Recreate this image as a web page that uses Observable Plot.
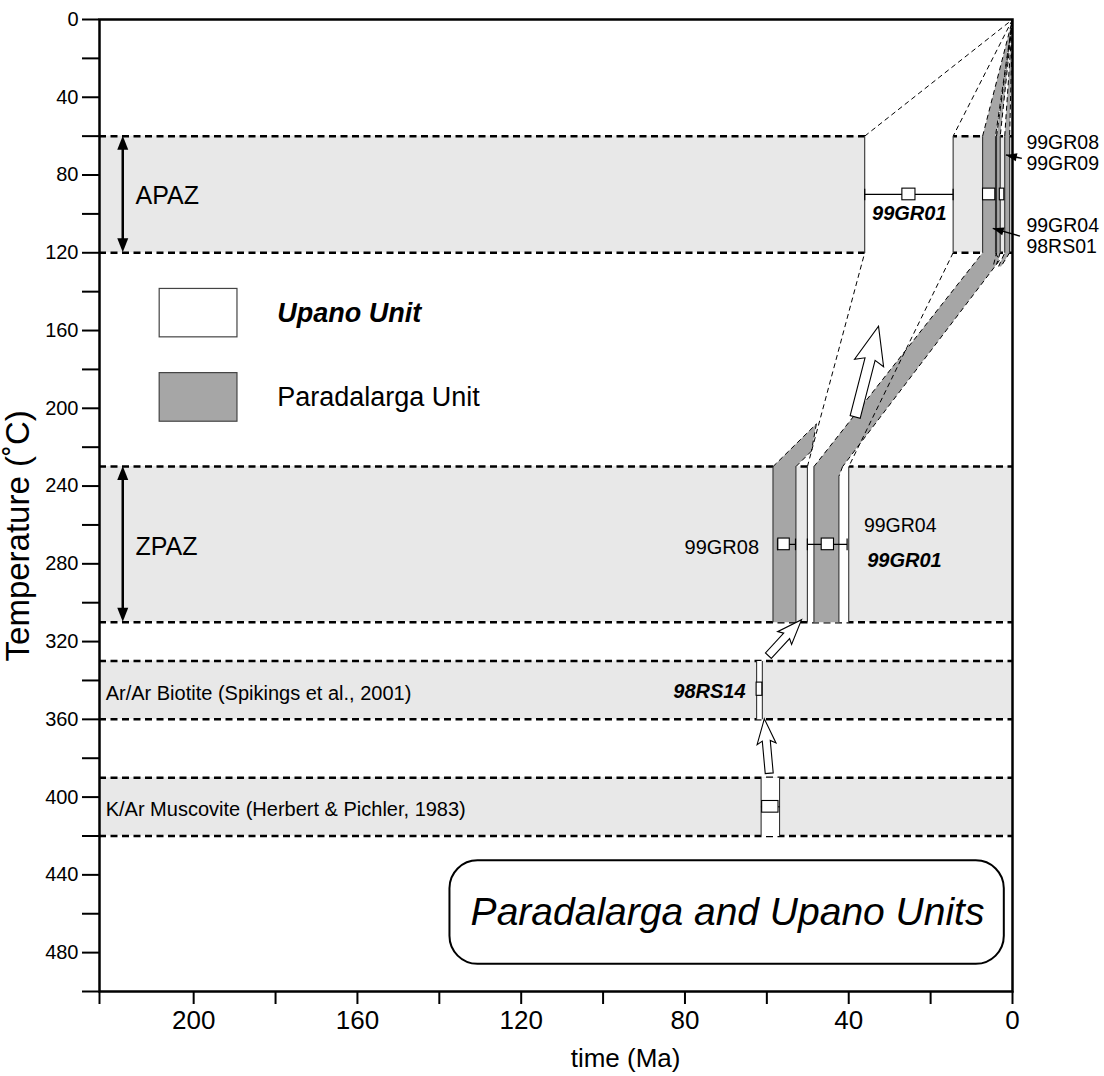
<!DOCTYPE html>
<html><head><meta charset="utf-8">
<script src="https://cdn.jsdelivr.net/npm/d3@7"></script>
<script src="https://cdn.jsdelivr.net/npm/@observablehq/plot@0.6"></script>
<style>
body{margin:0;background:#fff;}
svg{font-family:"Liberation Sans",Arial,sans-serif;}
</style>
</head><body><div id="chart"></div>
<script>
// ---------- DATA (time in Ma, temperature in °C) ----------
const xTicks = [223, 200, 180, 160, 140, 120, 100, 80, 60, 40, 20, 0];
const xLabelled = [200, 160, 120, 80, 40, 0];
const yTicks = d3.range(0, 501, 20);
const yLabelled = d3.range(0, 481, 40);

// closure-temperature bands
const bandLabels = ["APAZ", "ZPAZ", "Ar/Ar Biotite (Spikings et al., 2001)", "K/Ar Muscovite (Herbert & Pichler, 1983)"];
const bandTop = [60, 230, 330, 390];
const bandBottom = [120, 310, 360, 420];

// Upano Unit (white) t–T paths
const upano99GR01 = [[50.1,310],[50.1,230],[36.1,120],[36.1,60],[0,0],[14.5,60],[14.5,120],[40.0,230],[40.0,310]];
const upano98RS14 = [[62.5,330],[62.5,360],[61.1,360],[61.1,330]];
const upanoKAr    = [[61.4,390],[61.4,420],[56.9,420],[56.9,390]];

// Paradalarga Unit (grey) t–T paths
const para99GR08  = [[58.5,310],[58.5,230],[47.9,208],[49.1,222],[52.9,230],[52.9,310]];
const para99GR04  = [[48.5,310],[48.5,230],[7.3,120],[7.3,60],[0,0],[4.15,60],[4.15,120],[3.2,124],[41.5,230],[42.4,235],[42.4,310]];
const para99GR08a = [[4.6,126],[3.9,120],[3.9,60],[0,0],[3.0,60],[3.0,120],[3.9,126]];
const para99GR09a = [[3.4,127],[1.9,120],[1.9,60],[0,0],[0.7,60],[0.7,120],[2.8,127]];

// fission-track ages: error bars (age range) and central age
const barAgeMin = [14.5, 53.0, 40.4];
const barAgeMax = [36.1, 57.4, 50.1];
const barTemp   = [90, 270, 270];
const boxAge  = [25.3, 55.8, 45.1, 61.8, 5.7, 2.55, 59.15];
const boxTemp = [90, 270, 270, 344.5, 90, 90, 405];

// sample labels
const upanoLabelText = ["99GR01", "99GR01", "98RS14"];
const upanoLabelAge  = [34.3, 35.5, 65.2];
const upanoLabelTemp = [100, 278.4, 345.7];
const paraLabelText = ["99GR08", "99GR04", "99GR08", "99GR09", "99GR04", "98RS01"];
const paraLabelAge  = [61.9, 36.3, -3.4, -3.4, -3.4, -3.4];
const paraLabelTemp = [271.6, 260.4, 63.5, 74.3, 106.2, 116.8];

// arrows
const hollowTail = [[59.3,388],[59.5,327.5],[38.3,204.7]];
const hollowTip  = [[60.5,360],[51.4,309],[32.6,158]];
const pointerTail = [[-2.4,71.7],[-1.95,111.7]];
const pointerTip  = [[1.5,69.9],[4.7,107.7]];
const rangeArrowAge = 217.2;

// legend + title
const legendLabels = ["Upano Unit", "Paradalarga Unit"];
const titleText = "Paradalarga and Upano Units";

// ---------- STYLE ----------
const GREY = "#a6a6a6", BAND = "#e8e8e8";
const boxHalfW = [1.6, 1.4, 1.5, 0.7, 1.5, 0.55, 2.0];
const boxHalfH = [3, 3, 3, 3.4, 3, 3, 3];

// ---------- build tables ----------
const bands = bandLabels.map((name, i) => ({name, top: bandTop[i], bottom: bandBottom[i]}));
const bandEdges = bands.flatMap(b => [b.top, b.bottom]);
const upanoPaths = [upano99GR01, upano98RS14, upanoKAr];
const paraPaths = [para99GR08, para99GR04, para99GR08a, para99GR09a];
const toPts = (paths) => paths.flatMap((p, k) => p.map(([t, T]) => ({t, T, k})));
function edges(paths) {
  const out = [];
  for (const p of paths) for (let i = 0; i < p.length - 1; i++) {
    const [a, b] = [p[i], p[i + 1]];
    if (a[1] === b[1]) continue;
    out.push({t1: a[0], T1: a[1], t2: b[0], T2: b[1], vertical: a[0] === b[0]});
  }
  return out;
}
const allEdges = edges([...upanoPaths, ...paraPaths]);
const bars = barAgeMin.map((a, i) => ({a, b: barAgeMax[i], T: barTemp[i]}));
const caps = bars.flatMap(d => [{t: d.a, T: d.T}, {t: d.b, T: d.T}]);
const boxes = boxAge.map((t, i) => ({t, T: boxTemp[i], hw: boxHalfW[i], hh: boxHalfH[i]}));
const upanoLabels = upanoLabelText.map((s, i) => ({s, t: upanoLabelAge[i], T: upanoLabelTemp[i]}));
const paraLabels = paraLabelText.map((s, i) => ({s, t: paraLabelAge[i], T: paraLabelTemp[i]}));
const endAnchored = (d) => d.t > 50;

function arrowLayer(index, scales) {
  const {x, y} = scales;
  const g = d3.create("svg:g");
  const spec = [{w: 4, W: 9.5, L: 22, k: 3}, {w: 4, W: 9.5, L: 22, k: 3}, {w: 5.2, W: 15, L: 34, k: 4}];
  hollowTail.forEach((tl, i) => {
    const P0 = [x(tl[0]), y(tl[1])], P1 = [x(hollowTip[i][0]), y(hollowTip[i][1])];
    const dx = P1[0] - P0[0], dy = P1[1] - P0[1], len = Math.hypot(dx, dy);
    const u = [dx / len, dy / len], n = [-u[1], u[0]];
    const {w, W, L, k} = spec[i];
    const B = [P1[0] - u[0] * L, P1[1] - u[1] * L];
    const pt = (base, nn, uu) => [base[0] + n[0] * nn + u[0] * uu, base[1] + n[1] * nn + u[1] * uu];
    const poly = [pt(P0, w, 0), pt(B, w, 0), pt(B, W, -k), P1, pt(B, -W, -k), pt(B, -w, 0), pt(P0, -w, 0)];
    g.append("path").attr("d", "M" + poly.map(p => p.join(",")).join("L") + "Z")
      .attr("fill", "white").attr("stroke", "black").attr("stroke-width", 1.1);
  });
  const head = (tip, from, W, L) => {
    const dx = tip[0] - from[0], dy = tip[1] - from[1], len = Math.hypot(dx, dy);
    const u = [dx / len, dy / len], n = [-u[1], u[0]];
    const B = [tip[0] - u[0] * L, tip[1] - u[1] * L];
    g.append("path").attr("d", `M${tip}L${B[0] + n[0] * W},${B[1] + n[1] * W}L${B[0] - n[0] * W},${B[1] - n[1] * W}Z`).attr("fill", "black");
  };
  pointerTail.forEach((tl, i) => {
    const P0 = [x(tl[0]), y(tl[1])], P1 = [x(pointerTip[i][0]), y(pointerTip[i][1])];
    g.append("line").attr("x1", P0[0]).attr("y1", P0[1]).attr("x2", P1[0]).attr("y2", P1[1]).attr("stroke", "black").attr("stroke-width", 1.5);
    head(P1, P0, 4, 11);
  });
  [0, 1].forEach(i => {
    const xx = x(rangeArrowAge), a = y(bandTop[i]), b = y(bandBottom[i]);
    g.append("line").attr("x1", xx).attr("x2", xx).attr("y1", a + 8).attr("y2", b - 8).attr("stroke", "black").attr("stroke-width", 2.5);
    head([xx, a], [xx, b], 5.5, 14);
    head([xx, b], [xx, a], 5.5, 14);
  });
  return g.node();
}

const chart = Plot.plot({
  width: 1104, height: 1076,
  marginLeft: 99, marginRight: 92, marginTop: 19, marginBottom: 85,
  x: {domain: [223, 0]},
  y: {domain: [0, 500], reverse: true},
  style: {fontFamily: "'Liberation Sans', Arial, sans-serif", background: "white"},
  marks: [
    Plot.rectY(bands, {x1: 223, x2: 0, y1: "top", y2: "bottom", fill: BAND}),
    Plot.ruleY(bandEdges, {stroke: "black", strokeWidth: 2.5, strokeDasharray: "7,4.5"}),
    // fills
    Plot.line(toPts(upanoPaths), {x: "t", y: "T", z: "k", fill: "white", stroke: "none", curve: "linear-closed"}),
    Plot.line(toPts(paraPaths), {x: "t", y: "T", z: "k", fill: GREY, stroke: "none", curve: "linear-closed"}),
    // outlines
    Plot.link(allEdges.filter(d => !d.vertical), {x1: "t1", y1: "T1", x2: "t2", y2: "T2", stroke: "black", strokeWidth: 1, strokeDasharray: "5,3.5"}),
    Plot.link(allEdges.filter(d => d.vertical), {x1: "t1", y1: "T1", x2: "t2", y2: "T2", stroke: "#333", strokeWidth: 1.1}),
    // error bars
    Plot.link(bars, {x1: "a", x2: "b", y1: "T", y2: "T", stroke: "black", strokeWidth: 1.2}),
    Plot.link(caps, {x1: "t", x2: "t", y1: d => d.T - 3, y2: d => d.T + 3, stroke: "black", strokeWidth: 1.2}),
    Plot.link(boxes.slice(6), {x1: d => d.t - d.hw - 0.3, x2: d => d.t + d.hw + 0.3, y1: "T", y2: "T", stroke: "black", strokeWidth: 1}),
    Plot.rect(boxes, {x1: d => d.t - d.hw, x2: d => d.t + d.hw, y1: d => d.T - d.hh, y2: d => d.T + d.hh, fill: "white", stroke: "black", strokeWidth: 1.1}),
    // legend
    Plot.rect([0, 1], {x1: 208.3, x2: 189.3, y1: i => [138.6, 181.9][i], y2: i => [163.5, 206.9][i], fill: i => ["white", GREY][i], stroke: "#444", strokeWidth: 1.2}),
    Plot.text([0], {x: 179.6, y: 151.2, text: () => legendLabels[0], textAnchor: "start", fontSize: 27, fontWeight: "bold", fontStyle: "italic", fill: "black"}),
    Plot.text([1], {x: 179.6, y: 194.4, text: () => legendLabels[1], textAnchor: "start", fontSize: 27, fill: "black"}),
    // band labels
    Plot.text(bands.slice(0, 2), {x: 214.2, y: d => d.name === "APAZ" ? 90.6 : 271.4, text: "name", textAnchor: "start", fontSize: 25, fill: "black"}),
    Plot.text(bands.slice(2), {x: 221.5, y: d => (d.top + d.bottom) / 2 + 1.5, text: "name", textAnchor: "start", fontSize: 20, fill: "black"}),
    // sample labels
    Plot.text(paraLabels.filter(d => !endAnchored(d)), {x: "t", y: "T", text: "s", textAnchor: "start", fontSize: 19.5, fill: "black"}),
    Plot.text(paraLabels.filter(endAnchored), {x: "t", y: "T", text: "s", textAnchor: "end", fontSize: 20, fill: "black"}),
    Plot.text(upanoLabels.filter(d => !endAnchored(d)), {x: "t", y: "T", text: "s", textAnchor: "start", fontSize: 20, fontWeight: "bold", fontStyle: "italic", fill: "black"}),
    Plot.text(upanoLabels.filter(endAnchored), {x: "t", y: "T", text: "s", textAnchor: "end", fontSize: 20, fontWeight: "bold", fontStyle: "italic", fill: "black"}),
    // arrows
    arrowLayer,
    // title box
    Plot.rect([0], {x1: 137.4, x2: 2, y1: 432.8, y2: 486, rx: 28, fill: "white", stroke: "black", strokeWidth: 2}),
    Plot.text([titleText], {x: 69.6, y: 459.5, text: d => d, fontSize: 39, fontStyle: "italic", fill: "black"}),
    // axes
    Plot.frame({stroke: "black", strokeWidth: 2.5}),
    Plot.axisY({ticks: yTicks, tickSize: 17, tickPadding: 4, tickFormat: d => yLabelled.includes(d) ? d : "", fontSize: 20, strokeWidth: 2, label: null, anchor: "left", color: "black"}),
    Plot.axisX({ticks: xTicks, tickSize: 13, tickPadding: 6, tickFormat: d => xLabelled.includes(d) ? d : "", fontSize: 26, strokeWidth: 2, label: null, anchor: "bottom", color: "black"}),
    Plot.text(["time (Ma)"], {x: 94.5, y: 500, text: d => d, dy: 67, fontSize: 26, fill: "black"}),
    Plot.text(["Temperature (˚C)"], {x: 223, y: 265.6, text: d => d, dx: -81, rotate: -90, fontSize: 33, fill: "black"})
  ]
});
document.getElementById("chart").appendChild(chart);
</script>
</body></html>
